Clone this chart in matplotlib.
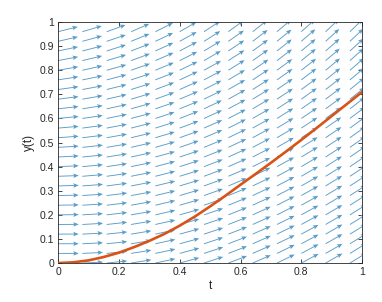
import numpy as np
import matplotlib
matplotlib.use("Agg")
import matplotlib.pyplot as plt

plt.rcParams['font.family'] = ['Liberation Sans', 'DejaVu Sans']

# direction field grid (arrow tails)
t_cols = [0, 0.08, 0.16, 0.24, 0.32, 0.40, 0.48, 0.56, 0.64, 0.72, 0.80, 0.88, 0.96]
y_rows = [0, 0.04, 0.08, 0.12, 0.16, 0.20, 0.24, 0.28, 0.32, 0.36, 0.40, 0.44, 0.48,
          0.52, 0.56, 0.60, 0.64, 0.68, 0.72, 0.76, 0.80, 0.84, 0.88, 0.92, 0.96, 1.0]

# slopes: bottom row and top row of each column
slope_bottom = [0.0, 0.06, 0.13, 0.20, 0.27, 0.34, 0.41, 0.48, 0.55, 0.61, 0.67, 0.72, 0.77]
slope_top = [0.34, 0.40, 0.48, 0.57, 0.66, 0.76, 0.86, 0.95, 1.03, 1.10, 1.16, 1.22, 1.27]
# how far each row leans from the bottom slope towards the top slope
row_mix = [0, 0.002, 0.006, 0.014, 0.026, 0.04, 0.058, 0.078, 0.102, 0.13, 0.16, 0.194, 0.23,
           0.27, 0.314, 0.36, 0.41, 0.462, 0.518, 0.578, 0.64, 0.706, 0.774, 0.846, 0.922, 1.0]

# solution curve
t_sol = [0, 0.05, 0.1, 0.15, 0.2, 0.25, 0.3, 0.35, 0.4, 0.45, 0.5,
         0.55, 0.6, 0.65, 0.7, 0.75, 0.8, 0.85, 0.9, 0.95, 1.0]
y_sol = [0, 0.003, 0.011, 0.025, 0.043, 0.066, 0.092, 0.121, 0.155, 0.193, 0.235,
         0.279, 0.325, 0.37, 0.416, 0.463, 0.511, 0.56, 0.61, 0.66, 0.71]

T, Y = np.meshgrid(t_cols, y_rows)
sb = np.array(slope_bottom)
st = np.array(slope_top)
S = sb[None, :] + np.array(row_mix)[:, None] * (st - sb)[None, :]
L = 0.068
U = L / np.sqrt(1 + S**2)
V = S * U

fig = plt.figure(figsize=(3.82, 3.02), dpi=100)
ax = fig.add_axes([0.152, 0.129, 0.796, 0.798])

ax.quiver(T, Y, U, V, angles='xy', scale_units='xy', scale=1,
          color='#5a9dc8', width=0.003, headwidth=5, headlength=6,
          headaxislength=5, zorder=2)
ax.plot(t_sol, y_sol, color='#d95319', linewidth=1.9, zorder=3)

ax.set_xlim(0, 1)
ax.set_ylim(0, 1)
ax.set_xticks(np.arange(0, 1.01, 0.2))
ax.set_yticks(np.arange(0, 1.01, 0.1))
ax.set_xticklabels(['0', '0.2', '0.4', '0.6', '0.8', '1'])
ax.set_yticklabels(['0', '0.1', '0.2', '0.3', '0.4', '0.5', '0.6', '0.7', '0.8', '0.9', '1'])
ax.tick_params(direction='in', length=3, width=0.6, top=True, right=True,
               labelsize=7.5, colors='#262626', pad=3)
for sp in ax.spines.values():
    sp.set_color('#262626')
    sp.set_linewidth(0.6)
ax.set_xlabel('t', fontsize=8.5, color='#262626', labelpad=2)
ax.set_ylabel('y(t)', fontsize=8.5, color='#262626', labelpad=3)

fig.savefig('out.png', dpi=100)
